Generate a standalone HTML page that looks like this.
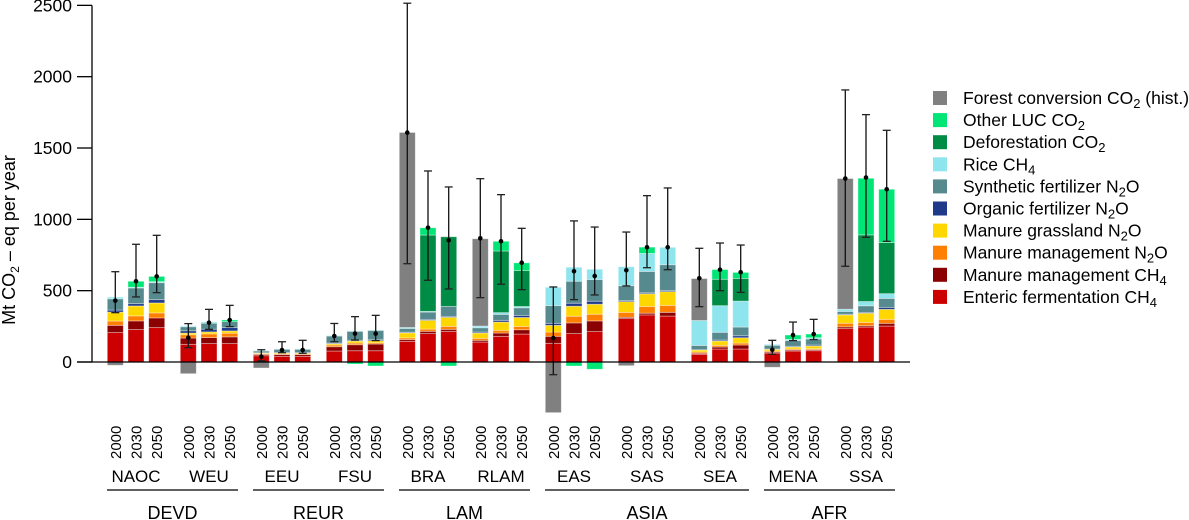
<!DOCTYPE html>
<html><head><meta charset="utf-8"><style>
html,body{margin:0;padding:0;background:#fff;}
svg{display:block;font-family:"Liberation Sans",Arial,sans-serif;}
</style></head><body>
<svg id="chart" width="1189" height="520" viewBox="0 0 1189 520"></svg>
<script>
const regions = ["NAOC","WEU","EEU","FSU","BRA","RLAM","EAS","SAS","SEA","MENA","SSA"];
const years = ["2000","2030","2050"];
const superRegions = ["DEVD","REUR","LAM","ASIA","AFR"];
const superSpans = [[0,1],[2,3],[4,5],[6,8],[9,10]];
const yTicks = [0,500,1000,1500,2000,2500];
const enteric = [206,227,241,124,129,129,44,40,40,77,79,79,145,199,215,140,180,196,131,199,213,304,330,322,54,91,91,63,77,79,234,245,252];
const manureCH4 = [51,61,68,44,42,47,9,12,12,30,42,47,12,16,14,12,23,30,49,75,75,9,12,26,7,14,28,7,7,7,12,9,19];
const manureN2O = [30,35,35,23,26,26,5,5,5,12,12,9,12,16,21,14,19,23,30,47,47,35,47,49,9,12,14,7,7,7,26,23,28];
const grassN2O = [63,70,70,12,14,16,5,7,7,9,14,14,35,61,63,37,58,63,47,70,70,75,89,96,14,30,37,12,14,19,58,65,70];
const organicN2O = [14,16,23,16,19,23,2,2,2,5,5,7,5,7,7,7,12,14,14,21,21,7,7,7,2,7,14,2,5,7,5,5,14];
const syntheticN2O = [79,110,119,28,42,42,12,23,23,49,63,65,26,51,70,30,42,54,124,154,152,105,150,182,30,54,61,26,40,42,19,47,63];
const riceCH4 = [12,5,7,7,9,0,3,3,3,3,3,3,7,5,0,12,12,9,129,98,72,133,126,122,175,187,182,7,9,9,16,30,33];
const deforestation = [0,0,0,0,0,0,0,0,0,0,0,0,0,535,488,0,432,252,0,0,0,0,0,0,0,185,159,0,0,0,0,467,358];
const otherLUC = [0,42,37,0,0,12,0,0,0,0,-14,-28,0,51,-28,0,68,54,0,-28,-51,0,44,0,0,68,42,0,30,26,0,397,374];
const forestConv = [-23,0,0,-82,0,0,-42,0,0,0,0,0,1367,0,0,612,0,0,-355,0,0,-26,0,0,294,0,0,-37,0,0,916,0,0];
const netMid = [430,566,600,170,276,294,37,84,84,182,199,199,1608,942,853,867,846,696,168,636,603,643,804,804,587,647,629,86,189,196,1286,1293,1211];
const errLow = [346,456,486,100,229,248,9,65,61,142,154,150,689,573,512,451,545,507,-89,437,470,533,661,647,388,500,488,54,150,157,671,874,846];
const errHigh = [633,825,888,269,369,397,86,142,152,270,318,327,2515,1339,1227,1285,1173,937,526,989,946,911,1166,1220,797,834,820,152,280,299,1907,1734,1624];

const series = [
 {name:"enteric-fermentation-ch4", label:"Enteric fermentation CH", sub:"4", tail:"", color:"#cc0000", data:enteric},
 {name:"manure-management-ch4", label:"Manure management CH", sub:"4", tail:"", color:"#8b0000", data:manureCH4},
 {name:"manure-management-n2o", label:"Manure management N", sub:"2", tail:"O", color:"#ff8000", data:manureN2O},
 {name:"manure-grassland-n2o", label:"Manure grassland N", sub:"2", tail:"O", color:"#ffd700", data:grassN2O},
 {name:"organic-fertilizer-n2o", label:"Organic fertilizer N", sub:"2", tail:"O", color:"#1f3a8a", data:organicN2O},
 {name:"synthetic-fertilizer-n2o", label:"Synthetic fertilizer N", sub:"2", tail:"O", color:"#568a8e", data:syntheticN2O},
 {name:"rice-ch4", label:"Rice CH", sub:"4", tail:"", color:"#8ee5ee", data:riceCH4},
 {name:"deforestation-co2", label:"Deforestation CO", sub:"2", tail:"", color:"#008c45", data:deforestation},
 {name:"other-luc-co2", label:"Other LUC CO", sub:"2", tail:"", color:"#00e676", data:otherLUC},
 {name:"forest-conversion-co2", label:"Forest conversion CO", sub:"2", tail:" (hist.)", color:"#808080", data:forestConv}
];

const NS="http://www.w3.org/2000/svg";
const svg=document.getElementById('chart');
function mk(tag,attrs,parent){const e=document.createElementNS(NS,tag);for(const k in attrs)e.setAttribute(k,attrs[k]);(parent||svg).appendChild(e);return e;}
const y0=362, pxPer=71.33/500;
function yS(v){return y0 - v*pxPer;}
function xS(i){const g=Math.floor(i/3),k=i%3;return 115.3+g*73+k*20.7;}
const bw=16;

const barsG=mk('g',{});


for(let i=0;i<regions.length*3;i++){
  let pos=0,neg=0;
  const cx=xS(i);
  series.forEach(s=>{
    const v=s.data[i]; if(!v) return;
    let a,b;
    if(v>0){a=pos;b=pos+v;pos=b;}else{a=neg+v;b=neg;neg=a;}
    const r=mk('rect',{x:cx-bw/2,y:yS(b),width:bw,height:Math.max(0,yS(a)-yS(b)),fill:s.color,stroke:'rgba(255,255,255,0.45)','stroke-width':0.8},barsG);
    
    
  });
}
const errG=mk('g',{});


for(let i=0;i<netMid.length;i++){
  const cx=xS(i);
  const l=mk('line',{x1:cx,x2:cx,y1:yS(errHigh[i]),y2:yS(errLow[i]),stroke:'#111','stroke-width':1.3},errG);
  
  
  [errHigh[i],errLow[i]].forEach(v=>{mk('line',{x1:cx-4,x2:cx+4,y1:yS(v),y2:yS(v),stroke:'#222','stroke-width':1.3},errG);});
  const d=mk('circle',{cx:cx,cy:yS(netMid[i]),r:2.3,fill:'#000'},errG);
  
  
}
const ax=mk('g',{});


mk('line',{x1:92,x2:92,y1:yS(2500),y2:y0,stroke:'#000','stroke-width':1.3},ax);
yTicks.forEach(t=>{
  mk('line',{x1:77,x2:92,y1:yS(t),y2:yS(t),stroke:'#000','stroke-width':1.3},ax);
  const tx=mk('text',{x:72,y:yS(t)+6,'text-anchor':'end','font-size':17.5,fill:'#000'},ax);
  tx.textContent=t;
  
  
});
const xl=mk('line',{x1:77,x2:910,y1:y0,y2:y0,stroke:'#000','stroke-width':1.3});


const yt=mk('text',{transform:'translate(15,240) rotate(-90)','text-anchor':'middle','font-size':18,fill:'#000'});


yt.innerHTML='Mt CO<tspan font-size="12" dy="4">2</tspan><tspan dy="-4"> – eq per year</tspan>';

for(let i=0;i<regions.length*3;i++){
  const t=mk('text',{transform:`translate(${xS(i)+5.5},459) rotate(-90)`,'font-size':15,fill:'#000'});
  t.textContent=years[i%3];
  
  
}
regions.forEach((r,g)=>{
  const t=mk('text',{x:xS(g*3+1),y:482,'text-anchor':'middle','font-size':17,fill:'#000'});
  t.textContent=r;
  
  
});
superRegions.forEach((s,j)=>{
  const a=xS(superSpans[j][0]*3+1)-29, b=xS(superSpans[j][1]*3+1)+29;
  const l=mk('line',{x1:a,x2:b,y1:490,y2:490,stroke:'#000','stroke-width':1.3});
  
  
  const t=mk('text',{x:(a+b)/2,y:519,'text-anchor':'middle','font-size':18,fill:'#000'});
  t.textContent=s;
  
  
});
const lg=mk('g',{});


series.slice().reverse().forEach((s,j)=>{
  const cy=98+j*22.1;
  const r=mk('rect',{x:933,y:cy-7,width:14,height:14,fill:s.color},lg);
  
  
  const t=mk('text',{x:963,y:cy+6,'font-size':17.5,fill:'#000'},lg);
  t.innerHTML=s.label+'<tspan font-size="13" dy="4">'+s.sub+'</tspan><tspan dy="-4">'+s.tail+'</tspan>';
  
  
});
</script>
</body></html>
